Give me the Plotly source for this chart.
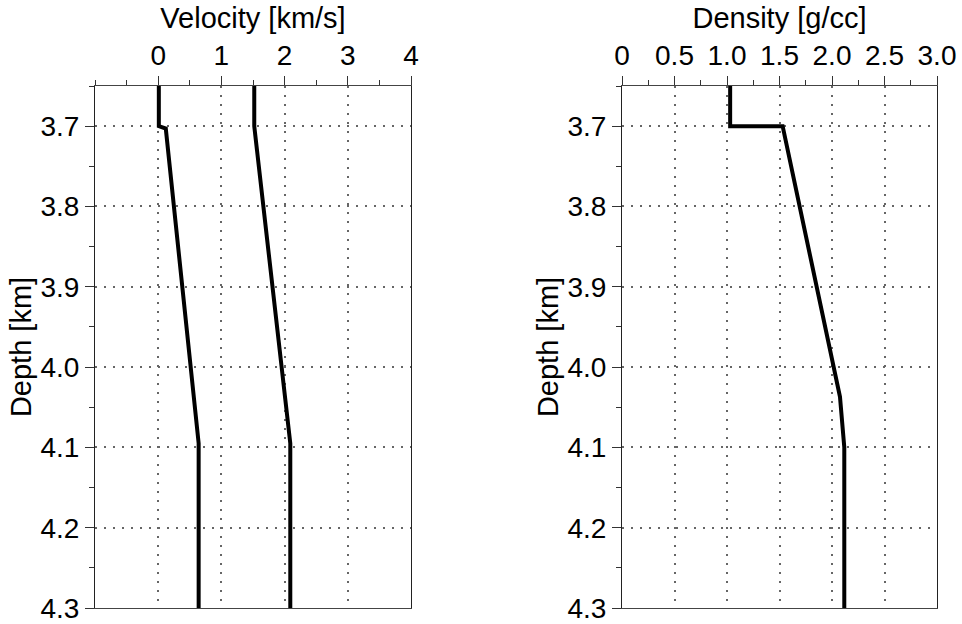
import plotly.graph_objects as go

# Velocity profile
depth_vs = [3.65, 3.70, 3.703, 4.095, 4.30]
vs = [0.01, 0.01, 0.12, 0.64, 0.64]
depth_vp = [3.65, 3.70, 4.095, 4.30]
vp = [1.52, 1.52, 2.09, 2.09]

# Density profile
depth_rho = [3.65, 3.70, 3.70, 4.037, 4.10, 4.30]
rho = [1.03, 1.03, 1.53, 2.076, 2.117, 2.117]

vel_ticks = [0, 1, 2, 3, 4]
vel_ticktext = ["0", "1", "2", "3", "4"]
rho_ticks = [0, 0.5, 1.0, 1.5, 2.0, 2.5, 3.0]
rho_ticktext = ["0", "0.5", "1.0", "1.5", "2.0", "2.5", "3.0"]
depth_ticks = [3.7, 3.8, 3.9, 4.0, 4.1, 4.2, 4.3]
depth_ticktext = ["3.7", "3.8", "3.9", "4.0", "4.1", "4.2", "4.3"]

FONT = "Liberation Sans, Arial, sans-serif"
W, H = 962, 624

fig = go.Figure()
line = dict(color="black", width=4)
fig.add_trace(go.Scatter(x=vs, y=depth_vs, mode="lines", line=line, xaxis="x", yaxis="y", showlegend=False))
fig.add_trace(go.Scatter(x=vp, y=depth_vp, mode="lines", line=line, xaxis="x", yaxis="y", showlegend=False))
fig.add_trace(go.Scatter(x=rho, y=depth_rho, mode="lines", line=line, xaxis="x2", yaxis="y2", showlegend=False))

GRIDDASH = "2px,7px"

def xax(domain, rng, tv, tt, title, anchor, minor_dtick):
    return dict(
        domain=domain, range=rng, side="top", anchor=anchor, automargin=False,
        tickvals=tv, ticktext=tt, ticks="outside", ticklen=9, tickcolor="#333",
        tickfont=dict(size=28, color="black", family=FONT),
        title=dict(text=title, font=dict(size=29, color="black", family=FONT), standoff=2),
        showline=True, linecolor="#444", linewidth=1, mirror=True,
        showgrid=True, gridcolor="#666", griddash=GRIDDASH, gridwidth=1.5,
        zeroline=False,
        minor=dict(ticks="outside", ticklen=5, dtick=minor_dtick, tick0=0, tickcolor="#333", showgrid=False),
    )

def yax(domain, anchor):
    return dict(
        domain=domain, range=[4.30, 3.65], anchor=anchor, automargin=False,
        tickvals=depth_ticks, ticktext=depth_ticktext, ticks="outside", ticklen=9, tickcolor="#333",
        tickfont=dict(size=28, color="black", family=FONT),
        title=dict(text="Depth [km]", font=dict(size=29, color="black", family=FONT), standoff=0),
        showline=True, linecolor="#222", linewidth=1, mirror=True,
        showgrid=True, gridcolor="#666", griddash=GRIDDASH, gridwidth=1.5,
        zeroline=False,
        minor=dict(ticks="outside", ticklen=5, dtick=0.05, tick0=3.65, tickcolor="#333", showgrid=False),
    )

ydom = [1 - 608 / H, 1 - 86 / H]
fig.update_layout(
    width=W, height=H,
    margin=dict(l=0, r=0, t=0, b=0),
    paper_bgcolor="white", plot_bgcolor="white",
    font=dict(family=FONT, color="black"),
    xaxis=xax([95 / W, 411 / W], [-1, 4], vel_ticks, vel_ticktext, "Velocity [km/s]", "y", 0.5),
    yaxis=yax(ydom, "x"),
    xaxis2=xax([622 / W, 937 / W], [0, 3], rho_ticks, rho_ticktext, "Density [g/cc]", "y2", 0.25),
    yaxis2=yax(ydom, "x2"),
)

fig.write_html(
    "out.html",
    config={"displayModeBar": False},
    post_script="document.body.style.margin='0px';document.body.style.overflow='hidden';",
)
